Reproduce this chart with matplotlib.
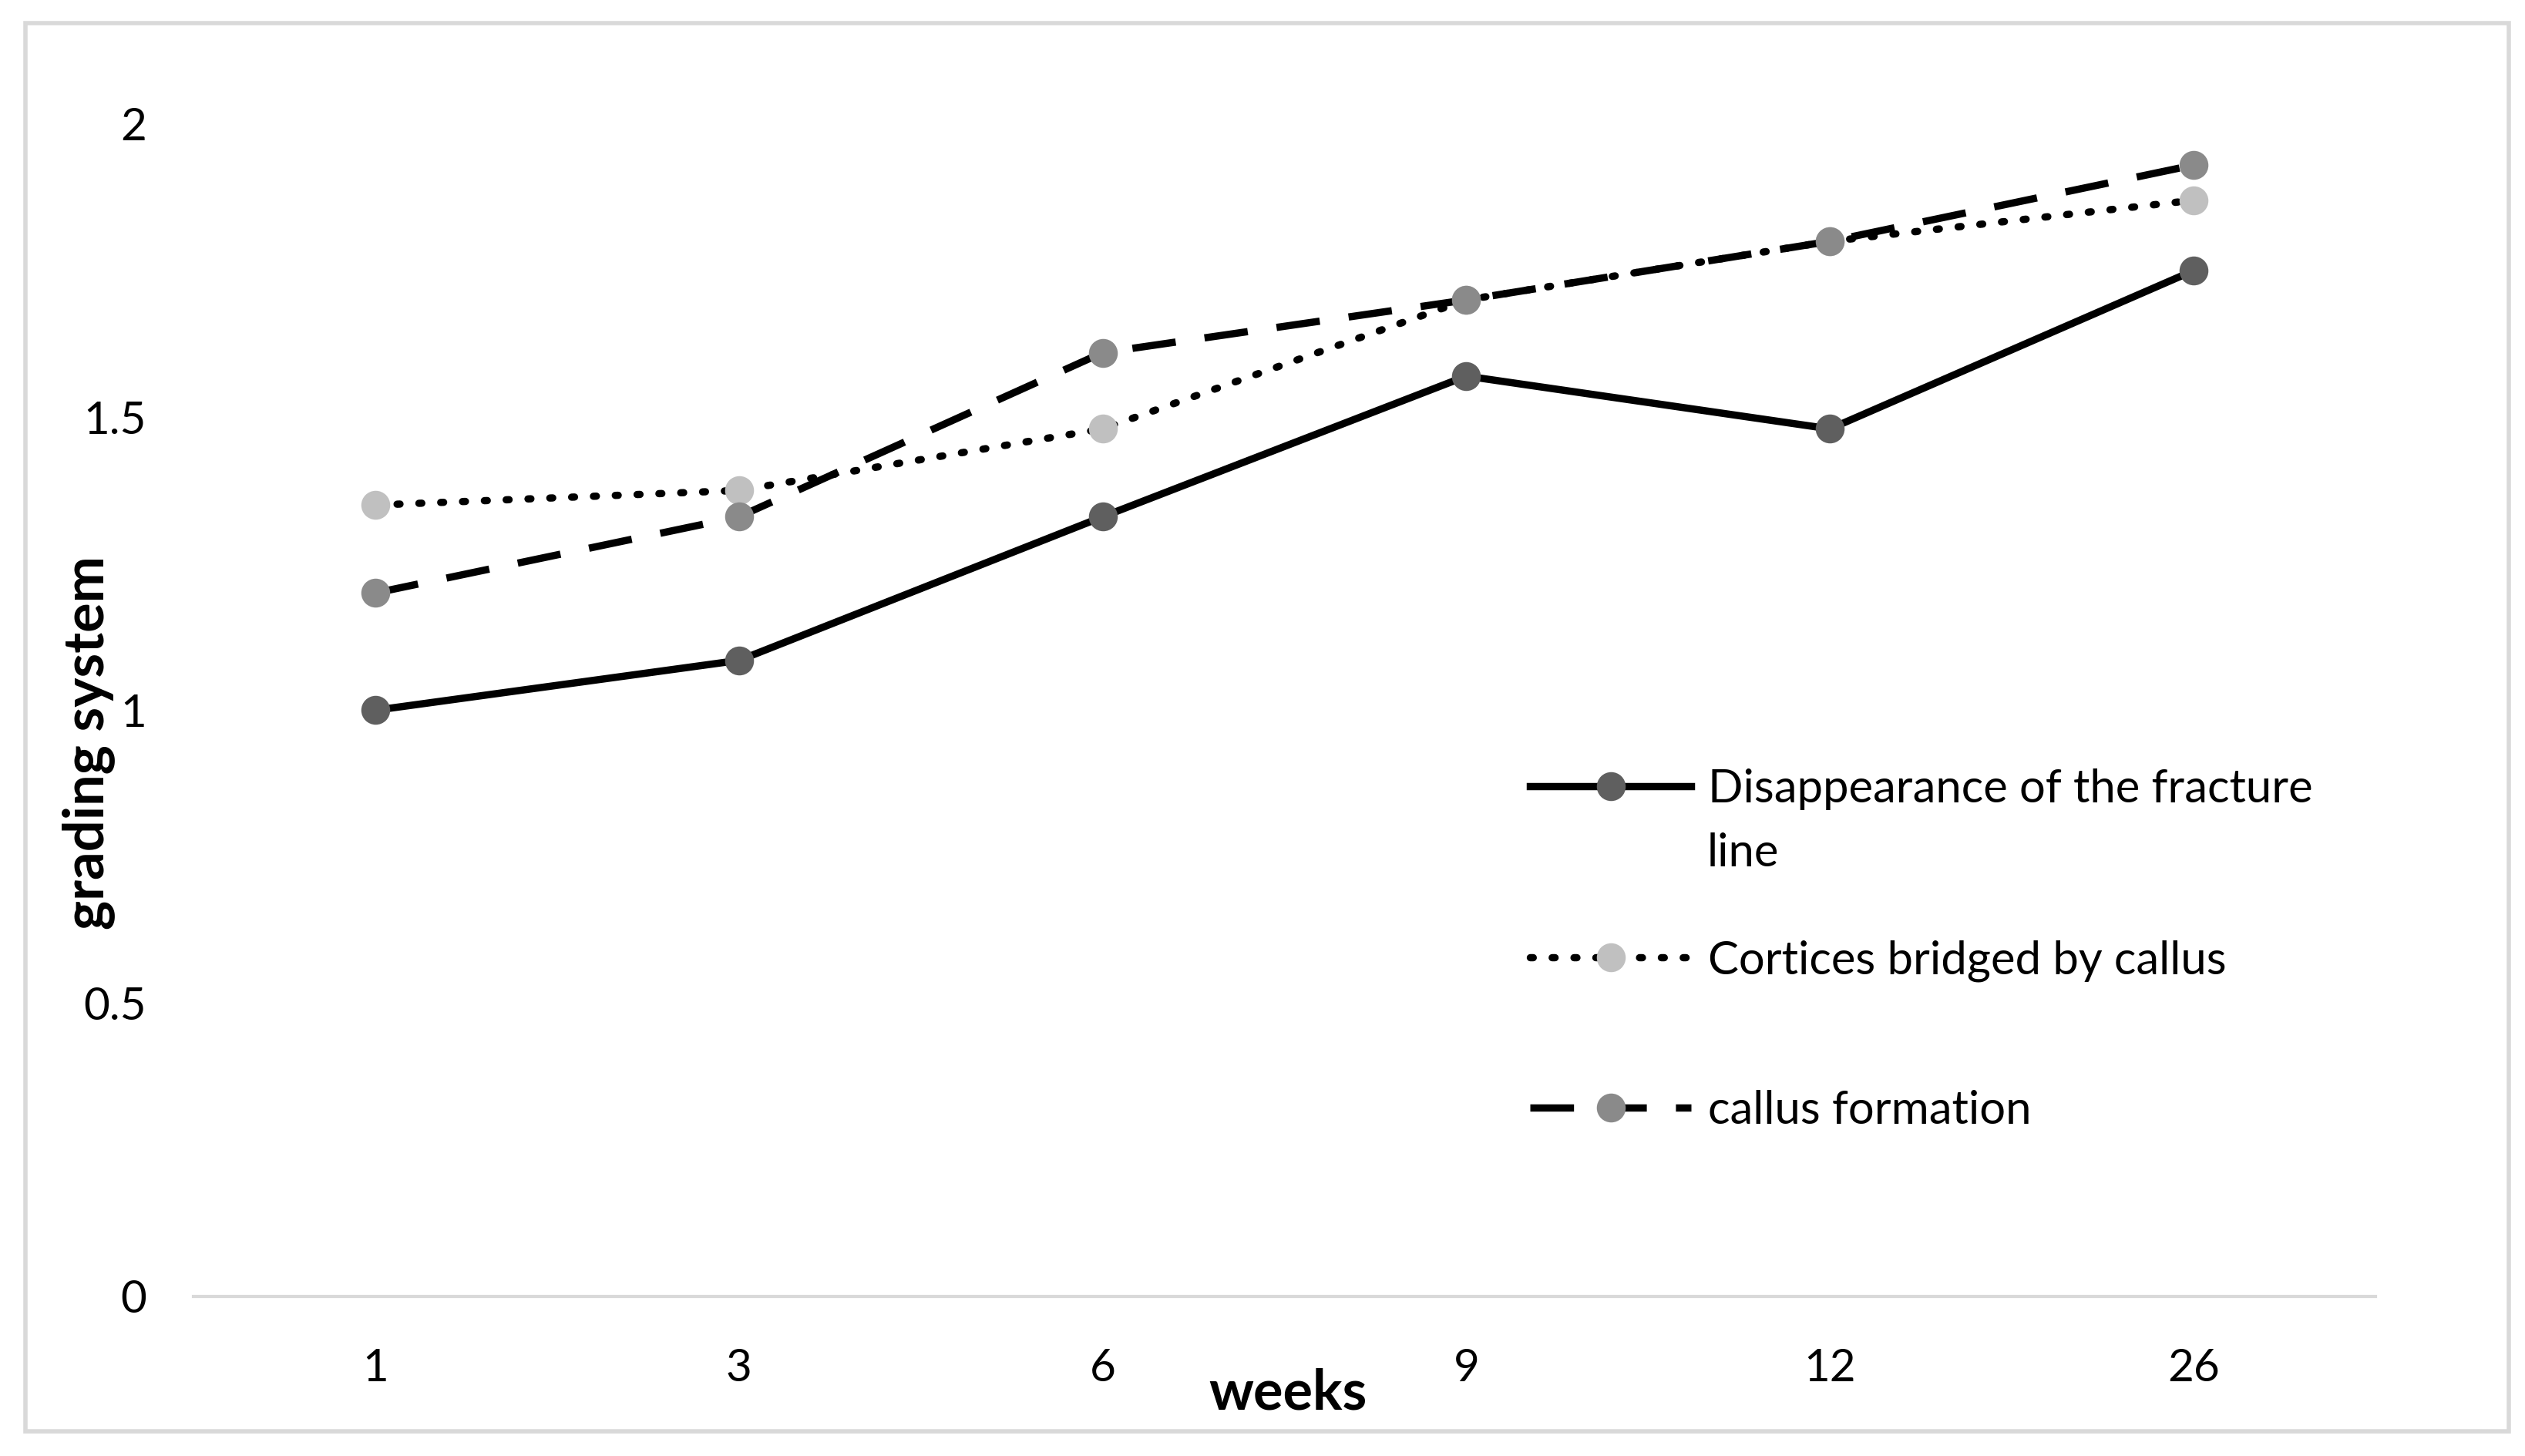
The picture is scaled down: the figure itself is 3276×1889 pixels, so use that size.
import matplotlib.pyplot as plt
from matplotlib.patches import Rectangle

plt.rcParams['font.family'] = ['Lato', 'DejaVu Sans']

weeks = ["1", "3", "6", "9", "12", "26"]
disappearance = [1.00, 1.085, 1.33, 1.57, 1.48, 1.75]
cortices = [1.35, 1.375, 1.48, 1.70, 1.80, 1.87]
callus = [1.20, 1.33, 1.61, 1.70, 1.80, 1.93]
yticks = [0, 0.5, 1, 1.5, 2]
ytick_labels = ["0", "0.5", "1", "1.5", "2"]

fig = plt.figure(figsize=(16.38, 9.445), dpi=200)
ax = fig.add_axes([0.0766, 0.1096, 0.8642, 0.8052])

x = list(range(len(weeks)))
lw = 3.4
l1, = ax.plot(x, disappearance, color="black", lw=lw, marker="o", ms=12.5,
              mfc="#5f5f5f", mec="#5f5f5f", zorder=3)
l2, = ax.plot(x, cortices, color="black", lw=lw, linestyle=(0, (0.4, 2.6)),
              dash_capstyle="round", marker="o", ms=12.5, mfc="#c0c0c0",
              mec="#c0c0c0", zorder=3)
l3, = ax.plot(x, callus, color="black", lw=lw, linestyle=(0, (6.0, 4.0)),
              marker="o", ms=12.5, mfc="#8a8a8a", mec="#8a8a8a", zorder=3)

ax.set_xlim(-0.5, len(weeks) - 0.5)
ax.set_ylim(0, 2)
ax.set_xticks(x)
ax.set_xticklabels(weeks, fontsize=21)
ax.set_yticks(yticks)
ax.set_yticklabels(ytick_labels, fontsize=21)
ax.tick_params(length=0)
ax.tick_params(axis="x", pad=24)
ax.tick_params(axis="y", pad=22)
for side in ["top", "right", "left"]:
    ax.spines[side].set_visible(False)
ax.spines["bottom"].set_color("#d9d9d9")
ax.spines["bottom"].set_linewidth(1.5)

# legend: first entry wraps onto a second line, drawn as its own legend
leg_kw = dict(frameon=False, fontsize=21.5, handlelength=3.5,
              handletextpad=0.36, numpoints=1, borderpad=0,
              borderaxespad=0, loc="center left")
leg1 = ax.legend([l1], ["Disappearance of the fracture"],
                 bbox_to_anchor=(0.6125, 0.4327), **leg_kw)
ax.add_artist(leg1)
ax.legend([l2, l3], ["Cortices bridged by callus", "callus formation"],
          bbox_to_anchor=(0.6125, 0.2225), labelspacing=2.35, **leg_kw)
ax.text(0.6937, 0.3777, "line", transform=ax.transAxes, fontsize=21.5,
        ha="left", va="center")

fig.text(0.510, 0.043, "weeks", fontsize=26, fontweight="bold",
         ha="center", va="center")
fig.text(0.035, 0.49, "grading system", fontsize=26, fontweight="bold",
         rotation=90, ha="center", va="center")

fig.patches.append(Rectangle((0.0102, 0.017), 0.9834, 0.967,
                             transform=fig.transFigure, fill=False,
                             edgecolor="#d9d9d9", lw=2))

fig.savefig("out.png", dpi=200, facecolor="white")
